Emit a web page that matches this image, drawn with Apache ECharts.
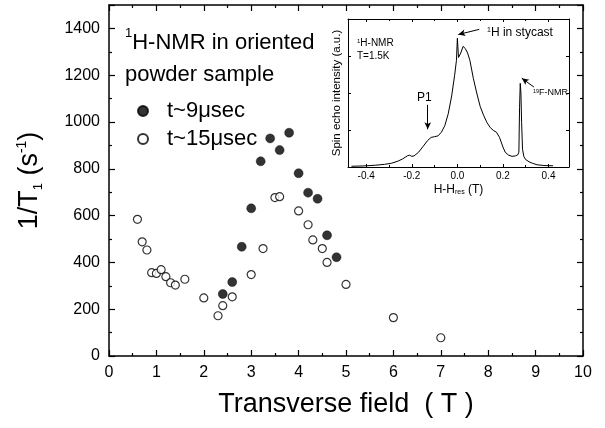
<!DOCTYPE html>
<html>
<head>
<meta charset="utf-8">
<script src="https://cdn.jsdelivr.net/npm/echarts@6/dist/echarts.min.js"></script>
<style>html,body{margin:0;padding:0;background:#fff}#c{width:605px;height:428px}</style>
</head>
<body>
<div id="c"></div>
<script>
// ---- data ----
var fieldFilled = [2.4, 2.6, 2.8, 3.0, 3.2, 3.4, 3.6, 3.8, 4.0, 4.2, 4.4, 4.6, 4.8];
var rateFilled  = [265, 316, 467, 631, 832, 930, 880, 954, 781, 698, 672, 516, 422];
var fieldOpen = [0.6, 0.7, 0.8, 0.9, 1.0, 1.1, 1.2, 1.3, 1.4, 1.6, 2.0, 2.3, 2.4, 2.6, 3.0, 3.25, 3.5, 3.6, 4.0, 4.2, 4.3, 4.5, 4.6, 5.0, 6.0, 7.0];
var rateOpen  = [584, 488, 453, 356, 353, 369, 339, 313, 303, 328, 248, 172, 215, 253, 348, 459, 677, 681, 620, 561, 496, 459, 400, 306, 164, 78];
var xTicks = [0, 1, 2, 3, 4, 5, 6, 7, 8, 9, 10];
var yTicks = [0, 200, 400, 600, 800, 1000, 1200, 1400];
var seriesNames = ['t~9\u03bcsec', 't~15\u03bcsec'];
// inset spectrum: H - Hres (T) and spin echo intensity (a.u.)
var specField = [-0.465,-0.44,-0.4,-0.36,-0.32,-0.29,-0.26,-0.24,-0.22,-0.21,-0.2,-0.19,-0.17,-0.15,-0.13,-0.115,-0.1,-0.085,-0.07,-0.055,-0.04,-0.025,-0.012,-0.004,0.0,0.003,0.005,0.01,0.015,0.025,0.035,0.045,0.055,0.07,0.085,0.1,0.115,0.13,0.145,0.16,0.172,0.185,0.2,0.21,0.225,0.24,0.255,0.265,0.27,0.273,0.276,0.279,0.282,0.286,0.292,0.3,0.315,0.33,0.35,0.38,0.42];
var specInt   = [0.005,0.006,0.008,0.012,0.018,0.025,0.04,0.055,0.075,0.08,0.072,0.075,0.1,0.14,0.18,0.2,0.205,0.21,0.235,0.28,0.36,0.48,0.62,0.72,0.87,0.86,0.74,0.73,0.77,0.815,0.8,0.77,0.72,0.6,0.5,0.41,0.35,0.3,0.265,0.245,0.235,0.2,0.135,0.1,0.08,0.072,0.075,0.082,0.1,0.4,0.565,0.5,0.3,0.12,0.07,0.05,0.035,0.025,0.015,0.01,0.008];

function zip(a, b) { return a.map(function (v, i) { return [v, b[i]]; }); }

var FF = '"Liberation Sans", Arial, Helvetica, sans-serif';
var black = '#000';

function mainX(pos, showLabel) {
  return {
    gridIndex: 0, type: 'value', position: pos, min: 0, max: 10, interval: 1,
    axisLine: { show: true, onZero: false, lineStyle: { color: black, width: 1.5 } },
    axisTick: { show: true, inside: true, length: 6, lineStyle: { color: black, width: 1.2 } },
    minorTick: { show: true, splitNumber: 2, length: 3, lineStyle: { color: black, width: 1.2 } },
    splitLine: { show: false }, minorSplitLine: { show: false },
    axisLabel: { show: showLabel, color: black, fontSize: 16, fontFamily: FF, margin: 9,
      formatter: function (v) { return xTicks.indexOf(v) >= 0 ? String(v) : ''; } }
  };
}
function mainY(pos, showLabel) {
  return {
    gridIndex: 0, type: 'value', position: pos, min: 0, max: 1500, interval: 200,
    axisLine: { show: true, onZero: false, lineStyle: { color: black, width: 1.5 } },
    axisTick: { show: true, inside: true, length: 6, lineStyle: { color: black, width: 1.2 } },
    minorTick: { show: true, splitNumber: 2, length: 3, lineStyle: { color: black, width: 1.2 } },
    splitLine: { show: false }, minorSplitLine: { show: false },
    axisLabel: { show: showLabel, color: black, fontSize: 16, fontFamily: FF, margin: 9, showMaxLabel: false,
      formatter: function (v) { return yTicks.indexOf(v) >= 0 ? String(v) : ''; } }
  };
}
function insetX(pos, showLabel) {
  return {
    gridIndex: 1, type: 'value', position: pos, min: -0.48, max: 0.49, splitNumber: 5,
    axisLine: { show: true, onZero: false, lineStyle: { color: black, width: 1 } },
    axisTick: { show: true, inside: true, length: 3, lineStyle: { color: black, width: 1 } },
    minorTick: { show: true, splitNumber: 2, length: 2, lineStyle: { color: black, width: 1 } },
    splitLine: { show: false }, minorSplitLine: { show: false },
    axisLabel: { show: showLabel, color: black, fontSize: 10, fontFamily: FF, margin: 4,
      showMinLabel: false, showMaxLabel: false,
      formatter: function (v) { return v.toFixed(1); } }
  };
}
function insetY(pos) {
  return {
    gridIndex: 1, type: 'value', position: pos, min: 0, max: 1, interval: 0.25,
    axisLine: { show: true, onZero: false, lineStyle: { color: black, width: 1 } },
    axisTick: { show: true, inside: true, length: 3, lineStyle: { color: black, width: 1 } },
    splitLine: { show: false },
    axisLabel: { show: false }
  };
}

var xa0 = mainX('bottom', true);
xa0.name = 'Transverse field  ( T )';
xa0.nameLocation = 'middle';
xa0.nameGap = 35;
xa0.nameTextStyle = { color: black, fontSize: 27, fontFamily: FF };
var ya0 = mainY('left', true);
ya0.name = '{a|1/T}{sub|1}{a| (s}{sup|-1}{a|)}';
ya0.nameLocation = 'middle';
ya0.nameGap = 64;
ya0.nameTextStyle = { color: black, fontFamily: FF, rich: {
  a: { fontSize: 27, fontFamily: FF, color: black, lineHeight: 30 },
  sub: { fontSize: 13, fontFamily: FF, color: black, verticalAlign: 'bottom', lineHeight: 14 },
  sup: { fontSize: 14, fontFamily: FF, color: black, verticalAlign: 'top', lineHeight: 14 }
}};
var xa2 = insetX('bottom', true);
xa2.name = 'H-H{sub|res} (T)';
xa2.nameLocation = 'middle';
xa2.nameGap = 17;
xa2.nameTextStyle = { color: black, fontSize: 12, fontFamily: FF, rich: {
  sub: { fontSize: 7, fontFamily: FF, color: black, verticalAlign: 'bottom', lineHeight: 8 }
}};
var ya2 = insetY('left');
ya2.name = 'Spin echo intensity (a.u.)';
ya2.nameLocation = 'middle';
ya2.nameGap = 5;
ya2.nameTextStyle = { color: black, fontSize: 11.5, fontFamily: FF };

var option = {
  backgroundColor: '#fff',
  animation: false,
  title: {
    text: '{sup|1}{m|H-NMR in oriented}\n{m|powder sample}',
    left: 120, top: 22,
    textStyle: { fontFamily: FF, fontWeight: 'normal', rich: {
      m: { fontSize: 22, fontFamily: FF, fontWeight: 'normal', color: black, lineHeight: 32 },
      sup: { fontSize: 13, fontFamily: FF, fontWeight: 'normal', color: black, verticalAlign: 'top', lineHeight: 24 }
    }}
  },
  legend: {
    data: seriesNames, orient: 'vertical', left: 132, top: 95,
    itemWidth: 10, itemHeight: 10, itemGap: 6,
    textStyle: { fontSize: 22, fontFamily: FF, color: black, padding: [0, 0, 0, 14] }
  },
  grid: [
    { left: 109, top: 5, width: 474, height: 351 },
    { left: 348, top: 19, width: 221, height: 148 }
  ],
  xAxis: [xa0, mainX('top', false), xa2, insetX('top', false)],
  yAxis: [ya0, mainY('right', false), ya2, insetY('right')],
  series: [
    { name: seriesNames[0], type: 'scatter', xAxisIndex: 0, yAxisIndex: 0, symbol: 'circle', symbolSize: 9,
      itemStyle: { color: black, borderColor: black, borderWidth: 0.5 }, data: zip(fieldFilled, rateFilled) },
    { name: seriesNames[1], type: 'scatter', xAxisIndex: 0, yAxisIndex: 0, symbol: 'circle', symbolSize: 8,
      itemStyle: { color: '#fff', borderColor: black, borderWidth: 1.2 }, data: zip(fieldOpen, rateOpen) },
    { name: 'spectrum', type: 'line', xAxisIndex: 2, yAxisIndex: 2, showSymbol: false, symbol: 'none',
      lineStyle: { color: black, width: 1 }, data: zip(specField, specInt),
      markLine: {
        silent: true, symbol: ['none', 'arrow'], symbolSize: [5, 7],
        label: { show: false },
        lineStyle: { color: black, width: 1, type: 'solid' },
        data: [
          [{ coord: [0.096, 0.93] }, { coord: [0.004, 0.895] }],
          [{ coord: [-0.13, 0.42] }, { coord: [-0.13, 0.255] }],
          [{ coord: [0.336, 0.54], lineStyle: { curveness: 0.45 } }, { coord: [0.283, 0.6] }]
        ]
      }
    }
  ],
  graphic: [
    { type: 'text', style: { x: 357, y: 43, text: '{s|1}{t|H-NMR}', verticalAlign: 'middle',
      rich: { t: { fontSize: 10, fontFamily: FF, fill: black }, s: { fontSize: 6, fontFamily: FF, fill: black, verticalAlign: 'top' } } } },
    { type: 'text', style: { x: 357, y: 56, text: 'T=1.5K', fontSize: 10, fontFamily: FF, fill: black, verticalAlign: 'middle' } },
    { type: 'text', style: { x: 487, y: 33, text: '{s|1}{t|H in stycast}', verticalAlign: 'middle',
      rich: { t: { fontSize: 12, fontFamily: FF, fill: black }, s: { fontSize: 7, fontFamily: FF, fill: black, verticalAlign: 'top' } } } },
    { type: 'text', style: { x: 417, y: 98, text: 'P1', fontSize: 12, fontFamily: FF, fill: black, verticalAlign: 'middle' } },
    { type: 'text', style: { x: 533, y: 93, text: '{s|19}{t|F-NMR}', verticalAlign: 'middle',
      rich: { t: { fontSize: 9, fontFamily: FF, fill: black }, s: { fontSize: 5.5, fontFamily: FF, fill: black, verticalAlign: 'top' } } } }
  ]
};
var chart = echarts.init(document.getElementById('c'), null, { renderer: 'canvas' });
chart.setOption(option);
</script>
</body>
</html>
